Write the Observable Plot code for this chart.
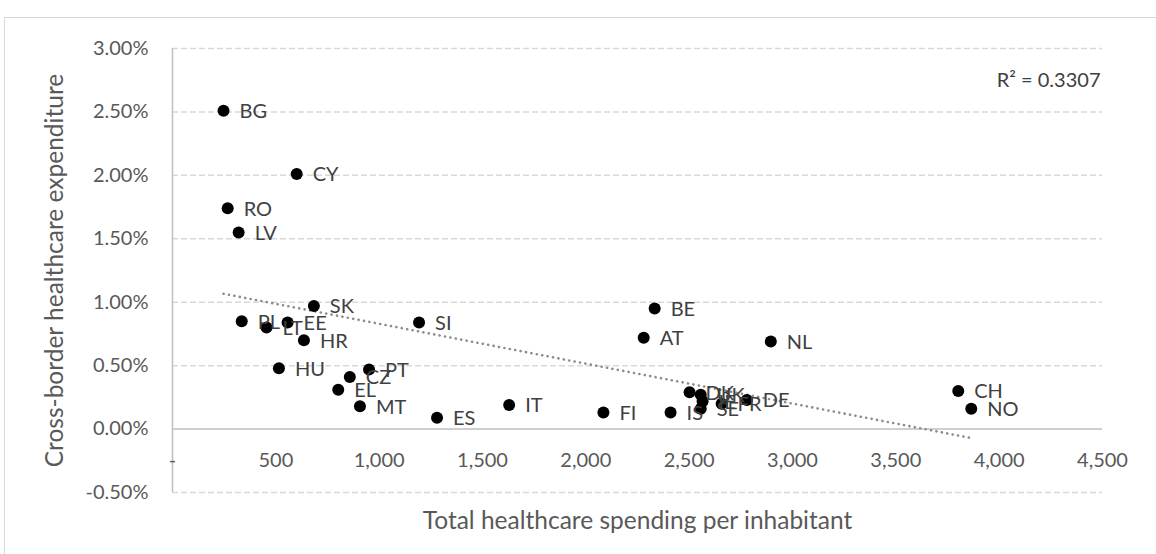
<!DOCTYPE html>
<html>
<head>
<meta charset="utf-8">
<script src="https://cdn.jsdelivr.net/npm/d3@7"></script>
<script src="https://cdn.jsdelivr.net/npm/@observablehq/plot@0.6"></script>
<style>
  html, body { margin: 0; padding: 0; background: #fff; overflow: hidden; }
  #wrap { position: relative; width: 1156px; height: 554px; overflow: hidden; }
  #border { position: absolute; left: 4px; top: 17px; width: 1300px; height: 700px; border: 1.5px solid #d9d9d9; box-sizing: border-box; }
  #chart { position: absolute; left: 0; top: 0; }
</style>
</head>
<body>
<div id="wrap"><div id="border"></div><div id="chart"></div></div>
<script>
// Country codes
const countries = ["BG","CY","RO","LV","SK","PL","LT","EE","HR","SI","HU","CZ","PT","EL","MT","ES","IT","FI","BE","AT","NL","IS","DK","UK","IE","SE","FR","DE","CH","NO"];
// Total healthcare spending per inhabitant
const spending = [247,601,267,320,684,335,455,557,636,1193,515,858,951,802,907,1280,1629,2085,2333,2280,2895,2410,2502,2556,2565,2556,2657,2779,3802,3865];
// Cross-border healthcare expenditure (%)
const crossBorder = [2.51,2.01,1.74,1.55,0.97,0.85,0.80,0.84,0.70,0.84,0.48,0.41,0.47,0.31,0.18,0.09,0.19,0.13,0.95,0.72,0.69,0.13,0.29,0.27,0.22,0.16,0.20,0.23,0.30,0.16];

const yTicks = [-0.5, 0, 0.5, 1, 1.5, 2, 2.5, 3];
const xTicks = [0, 500, 1000, 1500, 2000, 2500, 3000, 3500, 4000, 4500];
const xTickLabels = ["-", "500", "1,000", "1,500", "2,000", "2,500", "3,000", "3,500", "4,000", "4,500"];
const xTitle = "Total healthcare spending per inhabitant";
const yTitle = "Cross-border healthcare expenditure";
const r2Text = "R² = 0.3307";

const data = countries.map((c, i) => ({country: c, x: spending[i], y: crossBorder[i]}));
const xTickData = xTicks.map((v, i) => ({v, label: xTickLabels[i]}));

const FONT = "Lato, 'Open Sans', sans-serif";

const chart = Plot.plot({
  width: 1156,
  height: 554,
  marginLeft: 172,
  marginRight: 54,
  marginTop: 48,
  marginBottom: 62,
  style: {fontFamily: FONT, fontSize: "20px", background: "transparent", overflow: "visible"},
  x: {domain: [0, 4500], axis: null},
  y: {domain: [-0.5, 3], axis: null},
  marks: [
    Plot.ruleY(yTicks.filter(d => d !== 0), {stroke: "#d9d9d9", strokeWidth: 1.5, strokeDasharray: "6,3"}),
    Plot.ruleX([0], {stroke: "#bfbfbf", strokeWidth: 1.5}),
    Plot.ruleY([0], {stroke: "#bfbfbf", strokeWidth: 1.5}),
    Plot.linearRegressionY(data, {x: "x", y: "y", stroke: "#8c8c8c", strokeWidth: 2.6, strokeDasharray: "0.1,5.4", strokeLinecap: "round", ci: 0}),
    Plot.dot(data, {x: "x", y: "y", r: 6, fill: "#000"}),
    Plot.text(data, {x: "x", y: "y", text: "country", dx: 16, dy: 1, textAnchor: "start", fill: "#404040", fontSize: 20}),
    Plot.axisY(yTicks, {tickSize: 0, tickPadding: 24, tickFormat: d => d.toFixed(2) + "%", fill: "#595959", fontSize: 20, label: null}),
    Plot.text(xTickData, {x: "v", y: () => 0, text: "label", dy: 32, fill: "#595959", fontSize: 20}),
    Plot.text([xTitle], {frameAnchor: "bottom", text: d => d, lineAnchor: "middle", dy: 29, fill: "#595959", fontSize: 24.5}),
    Plot.text([yTitle], {frameAnchor: "left", text: d => d, textAnchor: "middle", lineAnchor: "middle", dx: -117, rotate: -90, fill: "#595959", fontSize: 24.5}),
    Plot.text([r2Text], {frameAnchor: "top-right", text: d => d, textAnchor: "end", lineAnchor: "middle", dx: -2, dy: 32, fill: "#404040", fontSize: 20})
  ]
});
document.getElementById("chart").appendChild(chart);
</script>
</body>
</html>
